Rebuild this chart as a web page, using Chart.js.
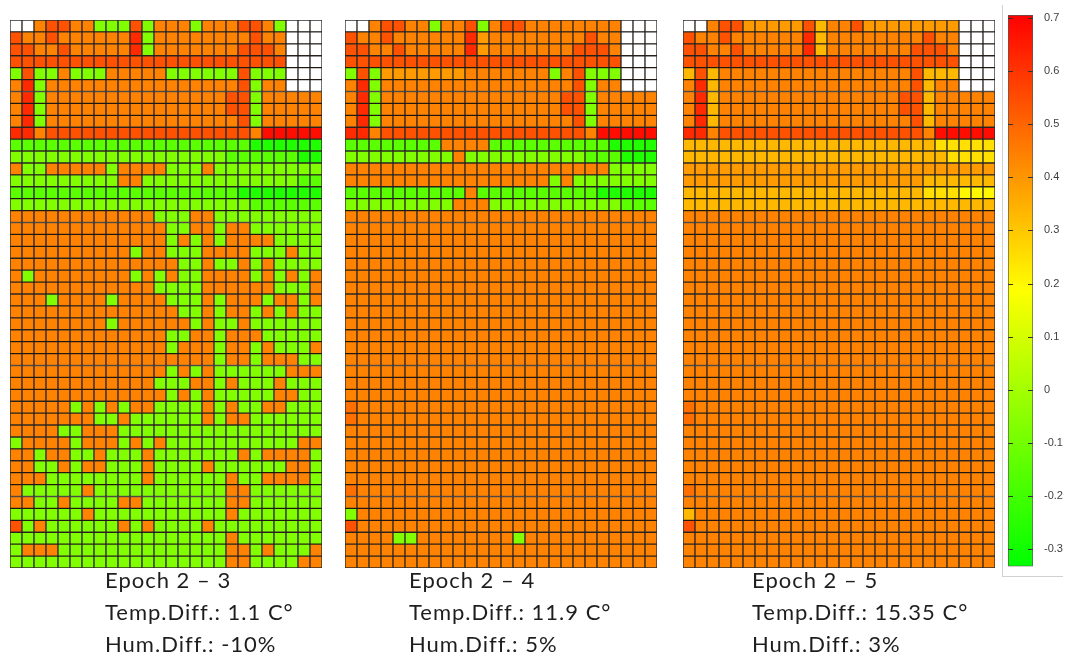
<!DOCTYPE html>
<html>
<head>
<meta charset="utf-8">
<title>Epoch difference maps</title>
<script src="https://cdn.jsdelivr.net/npm/chart.js@4.4.0/dist/chart.umd.min.js"></script>
<style>
  body { margin: 0; background: #fff; width: 1065px; height: 660px; position: relative; overflow: hidden; }
  .panel { position: absolute; top: 20px; width: 312px; height: 548px; }
  .caption {
    position: absolute; top: 564px;
    font-family: Lato, "Open Sans", sans-serif; font-size: 22px; line-height: 32px;
    letter-spacing: 1px; color: #1e1e1e; white-space: nowrap;
  }
  #barBox {
    position: absolute; left: 1002px; top: 5px; width: 60px; height: 571px;
    border-left: 1px solid #d0d0d0; border-bottom: 1px solid #d0d0d0;
  }
</style>
</head>
<body>

<div class="panel" style="left:10px"><canvas id="chart23"></canvas></div>
<div class="panel" style="left:345px"><canvas id="chart24"></canvas></div>
<div class="panel" style="left:683px"><canvas id="chart25"></canvas></div>
<div id="barBox"><canvas id="colorBar"></canvas></div>

<div class="caption" id="cap23" style="left:105px"></div>
<div class="caption" id="cap24" style="left:409px"></div>
<div class="caption" id="cap25" style="left:752px"></div>

<script>

// 26 columns per map
const columnLabels = ["1", "2", "3", "4", "5", "6", "7", "8", "9", "10", "11", "12", "13",
    "14", "15", "16", "17", "18", "19", "20", "21", "22", "23", "24", "25", "26"];

// colour classes read from the picture and their value on the colour bar
// ('.' = no data, white)
const levelCodes  = ["b",   "g",   "G",   "Z",  "Y",  "y",  "o",  "O",  "P",  "R",  "r",  "X"];
const levelValues = [-0.27, -0.15, -0.07, 0.20, 0.25, 0.33, 0.39, 0.44, 0.48, 0.54, 0.62, 0.68];

const scaleMin = -0.333;
const scaleMax = 0.706;
const colorbarTicks = [-0.3, -0.2, -0.1, 0, 0.1, 0.2, 0.3, 0.4, 0.5, 0.6, 0.7];

// rows top to bottom, cells grouped by 5 for reading
const epoch23 = [
    "..ORR OOGGG RGOOO GOOOR ROG.. .",
    "ROORO OOOOO rGOOO OOOOO ROO.. .",
    "RROOR OOOOO rGOOO OOOOR RRO.. .",
    "RRRRR RRRRR RRRRR RRRRR RRR.. .",
    "GRGGO GGGOO OOOGG GGGGR GGG.. .",
    "OrGOO OOOOO OOOOO OOOOR GOO.. .",
    "OrGOO OOOOO OOOOO OOORR GOOOO O",
    "OrGOO OOOOO OOOOO OOORR GOOOO O",
    "OrGOO OOOOO OOOOO OOOOR GOOOO O",
    "rrORR RRRRR RRRRR RRRRR OXXXX X",
    "ggggg ggggg ggggg ggggg bbbbb b",
    "GGGGG GGGGG GGGGG GGGgg ggggb b",
    "OGGOO OOOGO OOOGG GOGGG GGGGG G",
    "GGGGG GGGGO OGGGG GGGGG GGGGg g",
    "ggggg ggggg ggggg ggggb bbbbb b",
    "GGGGG GGGGG GGGGG GGGGG ggggg g",
    "OOOOO OOOOO OOGGG OOGGG GGGGG G",
    "OOOOO OOOOO OOOGG OOGOO GGGGG G",
    "OOOOO OOOOO OOOGO GOGOO OOGGG G",
    "OOOOO OOOOO GOOGG GOOOO GGGOG G",
    "OOOOO OOOOO OOOOG GOGGO GOGGG G",
    "OGOOO OOOOO GOGOG GOOOO GOGOG O",
    "OOOOO OOOOO OOGGG GOOOO OOGGG O",
    "OOOGO OOOGO OOOGG GOGOO OGOOG O",
    "OOOOO OOOOO OOOOG GOGOO GOGOG G",
    "OOOOO OOOGO OOOOO GOGGO GGGGG G",
    "OOOOO OOOOO OOOGG OOGOO OGGGG G",
    "OOOOO OOOOO OOOGO OOGOO GOGGG O",
    "OOOOO OOOOO OOOOO OOGOO GOOOG G",
    "OOOOO OOOOO OOOGO GOGGG GGGOO O",
    "OOOOO OOOOO OOGGG OOGOG GGOGG G",
    "OOOOO OOOOO OOOGO GOGGG GGOOG G",
    "OOOOO GOGOG OOGGG GOGOG GOOGG G",
    "OOOOO OOGGO GGGGG GOGOO GGGGG G",
    "OOOOG GOOOG GGGGG GGGGG GGGGG G",
    "GOOOO GOOOG OGOGG GGGGG GGGGO O",
    "OOGOO GGOGG GOGGG GGGGO GOOOO G",
    "OOGGO GOOGG GOGGG GOGGG GGGOO G",
    "OOOGG GGGGG GOGGG GGGOG GOOOO G",
    "OGGGG GOGGG GGGGG GGGOO GGGGG G",
    "OOGGO GGGGO OGGGG GGGOO GGGGG G",
    "GGGGG GOGGG GGGGG GGGOG GGGGG G",
    "RGOGG GGGGO GOGGG GOGGG GGGGG G",
    "GGGGG GGGGG GGGGG GGGOG GGGGG G",
    "GOOOG GGGGG GGGGG GGGOO GOGGG O",
    "GGGGG GGGGG GGGGG GGGOO GGGGO O"
];

const epoch24 = [
    "..ORR OOGOO RGORR OOOOO OOO.. .",
    "ROORO OOOOO roOOO OOOOO ROO.. .",
    "RROOR OOOOO roOOO OOOOR RRO.. .",
    "RRRRR RRRRR RRRRR RRRRR RRR.. .",
    "GRGoo ooooo OOOOO OOGOR GGG.. .",
    "OrGOO OOOOO OOOOO OOOOR GOO.. .",
    "OrGOO OOOOO OOOOO OOORR GOOOO O",
    "OrGOO OOOOO OOOOO OOORR GOOOO O",
    "OrGOO OOOOO OOOOO OOOOR GOOOO O",
    "rrORR RRRRR RRRRR RRRRR OXXXX X",
    "ggggg gggOO OOggg ggggg ggbbb b",
    "GGGGG GGGGO GGGGG GGGGG gggbb b",
    "OOOOO OOOOO OOOOO OOOOO OOGGG G",
    "OOOOO OOOOO OOOOO OOGOG GGGGG G",
    "ggggg ggggg Ogggg ggggg gbbbb b",
    "GGGGG GGGGO OOGGG GGGGG GGGgg g",
    "OOOOO OOOOO OOOOO OOOOO OOOOO O",
    "OOOOO OOOOO OOOOO OOOOO OOOOO O",
    "OOOOO OOOOO OOOOO OOOOO OOOOO O",
    "OOOOO OOOOO OOOOO OOOOO OOOOO O",
    "OOOOO OOOOO OOOOO OOOOO OOOOO O",
    "OOOOO OOOOO OOOOO OOOOO OOOOO O",
    "OOOOO OOOOO OOOOO OOOOO OOOOO O",
    "OOOOO OOOOO OOOOO OOOOO OOOOO O",
    "OOOOO OOOOO OOOOO OOOOO OOOOO O",
    "OOOOO OOOOO OOOOO OOOOO OOOOO O",
    "OOOOO OOOOO OOOOO OOOOO OOOOO O",
    "OOOOO OOOOO OOOOO OOOOO OOOOO O",
    "OOOOO OOOOO OOOOO OOOOO OOOOO O",
    "OOOOO OOOOO OOOOO OOOOO OOOOO O",
    "OOOOO OOOOO OOOOO OOOOO OOOOO O",
    "OOOOO OOOOO OOOOO OOOOO OOOOO O",
    "POOOO OOOOO OOOOO OOOOO OOOOO O",
    "POOOO OOOOO OOOOO OOOOO OOOOO O",
    "OOOOO OOOOO OOOOO OOOOO OOOOO O",
    "OOOOO OOOOO OOOOO OOOOO OOOOO O",
    "OOOOO OOOOO OOOOO OOOOO OOOOO O",
    "OOOOO OOOOO OOOOO OOOOO OOOOO O",
    "OOOOO OOOOO OOOOO OOOOO OOOOO O",
    "POOOO OOOOO OOOOO OOOOO OOOOO O",
    "OOOOO OOOOO OOOOO OOOOO OOOOO O",
    "GOOOO OOOOO OOOOO OOOOO OOOOO O",
    "ROOOO OOOOO OOOOO OOOOO OOOOO O",
    "OOOOG GOOOO OOOOG OOOOO OOOOO O",
    "OOOOO OOOOO OOOOO OOOOO OOOOO O",
    "OOOOO OOOOO OOOOO OOOOO OOOOO O"
];

const epoch25 = [
    "..ORR ooooo RyOOR ooooo ooo.. .",
    "ROORO OOOOO ryOOO OOOOO ROO.. .",
    "RROOR OOOOO ryOOO OOOOR RRO.. .",
    "RRRRR RRRRR RRRRR RRRRR RRR.. .",
    "yRyOO OOOOO OOOOO OOOOR yyy.. .",
    "OryOO OOOOO OOOOO OOOOR yOO.. .",
    "OryOO OOOOO OOOOO OOORR yOOOO O",
    "OryOO OOOOO OOOOO OOORR yOOOO O",
    "OryOO OOOOO OOOOO OOOOR yOOOO O",
    "rrORR RRRRR RRRRR RRRRR OXXXX X",
    "yyyyy yyyyy yyyyy yyyyy yYYYY Y",
    "yyyyy yyyyy yyyyy yyyyy yyYYY Y",
    "ooooo ooooo ooooo ooooo ooooo o",
    "ooooo ooooo ooooo ooooo yyyyy y",
    "yyyyy yyyyy yyyyy yyyyy YYYZZ Z",
    "yyyyy yyyyy yyyyy yyyyy yyyyy y",
    "OOOOO OOOOO OOOOO OOOOO OOOOO O",
    "OOOOO OOOOO OOOOO OOOOO OOOOO O",
    "OOOOO OOOOO OOOOO OOOOO OOOOO O",
    "OOOOO OOOOO OOOOO OOOOO OOOOO O",
    "OOOOO OOOOO OOOOO OOOOO OOOOO O",
    "OOOOO OOOOO OOOOO OOOOO OOOOO O",
    "OOOOO OOOOO OOOOO OOOOO OOOOO O",
    "OOOOO OOOOO OOOOO OOOOO OOOOO O",
    "OOOOO OOOOO OOOOO OOOOO OOOOO O",
    "OOOOO OOOOO OOOOO OOOOO OOOOO O",
    "OOOOO OOOOO OOOOO OOOOO OOOOO O",
    "OOOOO OOOOO OOOOO OOOOO OOOOO O",
    "OOOOO OOOOO OOOOO OOOOO OOOOO O",
    "OOOOO OOOOO OOOOO OOOOO OOOOO O",
    "OOOOO OOOOO OOOOO OOOOO OOOOO O",
    "OOOOO OOOOO OOOOO OOOOO OOOOO O",
    "POOOO OOOOO OOOOO OOOOO OOOOO O",
    "POOOO OOOOO OOOOO OOOOO OOOOO O",
    "OOOOO OOOOO OOOOO OOOOO OOOOO O",
    "OOOOO OOOOO OOOOO OOOOO OOOOO O",
    "OOOOO OOOOO OOOOO OOOOO OOOOO O",
    "OOOOO OOOOO OOOOO OOOOO OOOOO O",
    "OOOOO OOOOO OOOOO OOOOO OOOOO O",
    "POOOO OOOOO OOOOO OOOOO OOOOO O",
    "OOOOO OOOOO OOOOO OOOOO OOOOO O",
    "yOOOO OOOOO OOOOO OOOOO OOOOO O",
    "ROOOO OOOOO OOOOO OOOOO OOOOO O",
    "OOOOO OOOOO OOOOO OOOOO OOOOO O",
    "OOOOO OOOOO OOOOO OOOOO OOOOO O",
    "OOOOO OOOOO OOOOO OOOOO OOOOO O"
];

const captions23 = ["Epoch 2 \u2013 3", "Temp.Diff.: 1.1 C\u00b0", "Hum.Diff.: -10%"];
const captions24 = ["Epoch 2 \u2013 4", "Temp.Diff.: 11.9 C\u00b0", "Hum.Diff.: 5%"];
const captions25 = ["Epoch 2 \u2013 5", "Temp.Diff.: 15.35 C\u00b0", "Hum.Diff.: 3%"];


function cellValue(code) {
    const i = levelCodes.indexOf(code);
    return i < 0 ? null : levelValues[i];
}

// green -> yellow -> red, same as the colour bar
function valueColor(v) {
    if (v === null) return "#ffffff";
    let t = (scaleMax - v) / (scaleMax - scaleMin);
    t = Math.max(0, Math.min(1, t));
    return `hsl(${(120 * t).toFixed(1)}, 100%, 50%)`;
}

function buildDatasets(rows) {

    const grid = rows.map(r => r.replace(/ /g, "").split(""));

    // stacked bars start at the bottom, so the last row goes first
    return grid.slice().reverse().map((cells, i) => ({
        label: "row " + (grid.length - i),
        data: cells.map(() => 1),
        values: cells.map(cellValue),
        backgroundColor: cells.map(c => valueColor(cellValue(c))),
        borderColor: "rgba(10, 5, 0, 0.85)",
        borderWidth: 1,
        borderSkipped: false,
        barPercentage: 1,
        categoryPercentage: 1,
        stack: "grid"
    }));
}

function drawMap(canvasId, rows) {

    new Chart(document.getElementById(canvasId), {
        type: "bar",
        data: {
            labels: columnLabels,
            datasets: buildDatasets(rows)
        },
        options: {
            responsive: true,
            maintainAspectRatio: false,
            animation: false,
            layout: { padding: 0 },
            plugins: {
                legend: { display: false },
                tooltip: { enabled: false }
            },
            scales: {
                x: { display: false, stacked: true },
                y: { display: false, stacked: true, min: 0, max: rows.length }
            }
        }
    });
}

// short dashes on both inner edges of the colour bar
const barTickMarks = {
    id: "barTickMarks",
    afterDatasetsDraw(chart) {
        const { ctx, chartArea } = chart;
        const y = chart.scales.y;
        ctx.save();
        ctx.strokeStyle = "#333";
        ctx.lineWidth = 1;
        colorbarTicks.forEach(v => {
            const py = Math.round(y.getPixelForValue(v)) + 0.5;
            ctx.beginPath();
            ctx.moveTo(chartArea.left, py);
            ctx.lineTo(chartArea.left + 5, py);
            ctx.moveTo(chartArea.right - 5, py);
            ctx.lineTo(chartArea.right, py);
            ctx.stroke();
        });
        ctx.restore();
    }
};

function drawColorBar() {

    new Chart(document.getElementById("colorBar"), {
        type: "bar",
        data: {
            labels: [""],
            datasets: [{
                data: [[scaleMin, scaleMax]],
                backgroundColor: (context) => {
                    const { ctx, chartArea } = context.chart;
                    if (!chartArea) return null;
                    const g = ctx.createLinearGradient(0, chartArea.bottom, 0, chartArea.top);
                    g.addColorStop(0, valueColor(scaleMin));
                    g.addColorStop(0.5, valueColor((scaleMin + scaleMax) / 2));
                    g.addColorStop(1, valueColor(scaleMax));
                    return g;
                },
                borderColor: "#555",
                borderWidth: 1,
                borderSkipped: false,
                barPercentage: 1,
                categoryPercentage: 1
            }]
        },
        options: {
            responsive: true,
            maintainAspectRatio: false,
            animation: false,
            layout: { padding: { left: 5, top: 10, bottom: 7, right: 0 } },
            plugins: {
                legend: { display: false },
                tooltip: { enabled: false }
            },
            scales: {
                x: { display: false },
                y: {
                    position: "right",
                    min: scaleMin,
                    max: scaleMax,
                    afterBuildTicks: s => {
                        s.ticks = colorbarTicks.map(v => ({ value: v }));
                    },
                    afterFit: s => { s.width = 30; },
                    grid: { display: false },
                    border: { display: false },
                    ticks: {
                        padding: 3,
                        color: "#404040",
                        font: { family: "Arial, 'Liberation Sans', sans-serif", size: 11 },
                        callback: v => String(Math.round(v * 10) / 10)
                    }
                }
            }
        },
        plugins: [barTickMarks]
    });
}

function writeCaption(id, lines) {
    const box = document.getElementById(id);
    lines.forEach(t => {
        const div = document.createElement("div");
        div.textContent = t;
        box.appendChild(div);
    });
}

drawMap("chart23", epoch23);
drawMap("chart24", epoch24);
drawMap("chart25", epoch25);
drawColorBar();

writeCaption("cap23", captions23);
writeCaption("cap24", captions24);
writeCaption("cap25", captions25);
</script>
</body>
</html>
